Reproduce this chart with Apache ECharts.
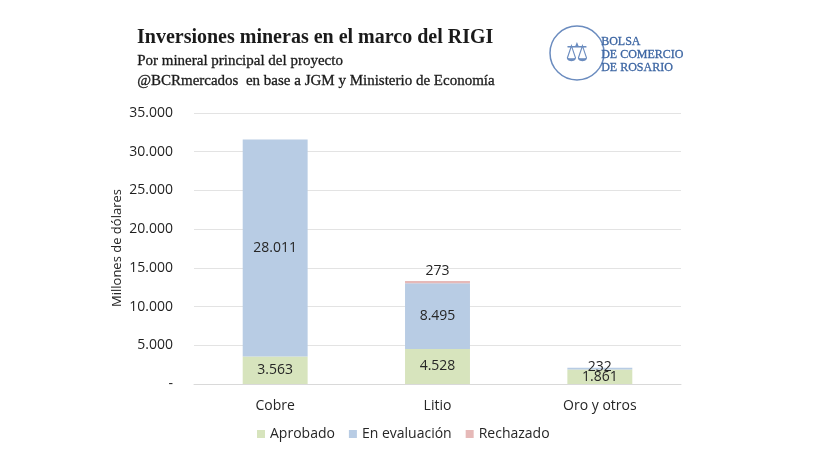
<!DOCTYPE html>
<html><head><meta charset="utf-8">
<script src="https://cdn.jsdelivr.net/npm/echarts@6/dist/echarts.min.js"></script>
<style>html,body{margin:0;padding:0;background:#fff}#c{width:832px;height:455px}</style>
</head><body><div id="c"></div>
<script>
const categories = ['Cobre', 'Litio', 'Oro y otros'];
const aprobado = [3563, 4528, 1861];
const enEvaluacion = [28011, 8495, 232];
const rechazado = [0, 273, 0];
const yTicks = [0, 5000, 10000, 15000, 20000, 25000, 30000, 35000];
const yAxisName = 'Millones de dólares';

const fmt = v => v === 0 ? '-' : String(v).replace(/\B(?=(\d{3})+(?!\d))/g, '.');
const sans = '"Open Sans", "Noto Sans", sans-serif';
const serif = '"Liberation Serif", "DejaVu Serif", serif';
const labelBase = {show: true, color: '#262626', fontFamily: sans, fontSize: 14, formatter: p => fmt(p.value)};

const chart = echarts.init(document.getElementById('c'));
chart.setOption({
  animation: false,
  grid: {left: 194, right: 151, top: 113, bottom: 71},
  legend: {
    bottom: 9, left: 252, itemWidth: 8, itemHeight: 8, itemGap: 14,
    icon: 'rect',
    textStyle: {fontFamily: sans, fontSize: 14, color: '#262626'},
    data: ['Aprobado', 'En evaluación', 'Rechazado']
  },
  xAxis: {
    type: 'category', data: categories,
    axisLine: {show: true, lineStyle: {color: '#d9d9d9'}},
    axisTick: {show: false},
    axisLabel: {fontFamily: sans, fontSize: 14, color: '#262626', margin: 15}
  },
  yAxis: {
    type: 'value', min: yTicks[0], max: yTicks[yTicks.length - 1], interval: 5000,
    axisLine: {show: false}, axisTick: {show: false},
    splitLine: {lineStyle: {color: '#e3e3e3'}},
    axisLabel: {fontFamily: sans, fontSize: 14, color: '#1f1f1f', margin: 21, formatter: fmt}
  },
  series: [
    {name: 'Aprobado', type: 'bar', stack: 's', barWidth: '40%', itemStyle: {color: '#d7e4bd'},
     label: Object.assign({}, labelBase, {position: 'inside'}), data: aprobado},
    {name: 'En evaluación', type: 'bar', stack: 's', itemStyle: {color: '#b8cce4'},
     label: Object.assign({}, labelBase, {position: 'inside'}),
     data: enEvaluacion.map((v, i) => i === 2 ? {value: v, label: {position: 'top', distance: -6}} : v)},
    {name: 'Rechazado', type: 'bar', stack: 's', itemStyle: {color: '#e6b9b8'},
     label: Object.assign({}, labelBase, {position: 'top', distance: 3}),
     data: rechazado.map(v => v === 0 ? {value: v, label: {show: false}} : v)}
  ],
  graphic: [
    {type: 'text', left: 137, top: 28, style: {text: 'Inversiones mineras en el marco del RIGI', font: 'bold 20px ' + serif, fill: '#1a1a1a'}},
    {type: 'text', left: 137, top: 53, style: {text: 'Por mineral principal del proyecto', font: '15px ' + serif, fill: '#1a1a1a', stroke: '#1a1a1a', lineWidth: 0.3}},
    {type: 'text', left: 137, top: 73, style: {text: '@BCRmercados  en base a JGM y Ministerio de Economía', font: '15px ' + serif, fill: '#1a1a1a', stroke: '#1a1a1a', lineWidth: 0.3}},
    {type: 'text', x: 117, y: 248, rotation: Math.PI / 2, style: {text: yAxisName, font: '13px ' + sans, fill: '#262626', align: 'center', verticalAlign: 'middle'}},
    {type: 'circle', shape: {cx: 577, cy: 53, r: 27}, style: {fill: 'none', stroke: '#6b8cbf', lineWidth: 1.5}},
    {type: 'text', x: 577, y: 54, style: {text: '⚖', font: '26px "DejaVu Sans"', fill: '#6b8cbf', align: 'center', verticalAlign: 'middle'}},
    {type: 'text', left: 601, top: 35, style: {text: 'BOLSA\nDE COMERCIO\nDE ROSARIO', font: '12px ' + serif, lineHeight: 13, fill: '#3d66a3', stroke: '#3d66a3', lineWidth: 0.3}}
  ]
});
</script></body></html>
